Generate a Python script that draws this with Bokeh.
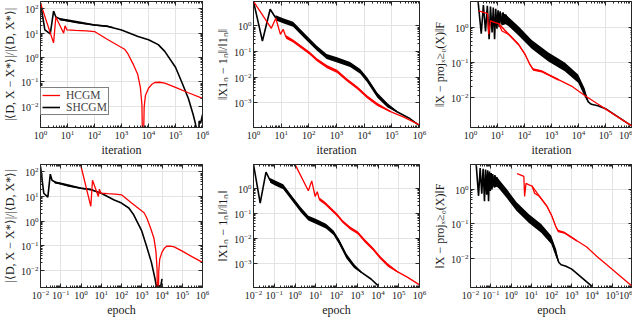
from bokeh.plotting import figure
from bokeh.layouts import column, row
from bokeh.models import FixedTicker, LogAxis, Legend, LegendItem, Range1d, CustomJSTickFormatter
from bokeh.embed import file_html
from bokeh.resources import INLINE

# ---------------- data ----------------
SERIES = ["HCGM", "SHCGM"]
SHCGM_ITERS_PER_EPOCH = 100   # SHCGM: 100 iterations = 1 epoch; HCGM: 1 iteration = 1 epoch

# panel 1 / 4 : |<D, X - X*>| / |<D, X*>|
obj_hcgm_x = [1, 3.05, 3.7, 7.2, 8.1, 9.6, 20, 50, 100, 316, 1300, 1760, 2700, 4000, 5000,
              5700, 6100, 6400, 6900, 7700, 1e4, 13000, 17000, 26000, 40000, 1e5, 3e5, 1e6]
obj_hcgm_y = [170, 4, 46, 10, 20, 13.6, 13, 12.5, 11.7, 5.4, 2.2, 1.37, 0.54, 0.2, 0.06,
              0.012, 1e-4, 1e-4, 0.009, 0.028, 0.055, 0.078, 0.095, 0.097, 0.09, 0.06, 0.036, 0.021]
obj_shcgm_x = [1, 1.45, 2.3, 3.05, 3.7, 5.7, 24, 100, 316, 1000, 4100, 1e4, 23000, 40000,
               1e5, 1.7e5, 3e5, 4.5e5, 5.5e5, 5.9e5, 7e5, 7.5e5, 8.5e5, 1e6]
obj_shcgm_y = [170, 13.6, 9.4, 81, 46, 37, 27, 21.6, 19, 13.5, 7.4, 5.4, 3.4, 1.8,
               0.4, 0.1, 0.021, 0.0046, 0.0019, 1e-4, 1e-4, 0.0025, 0.002, 0.0045]
obj_shcgm_band_x = [5, 10, 30, 100, 300, 500]
obj_shcgm_band_lo = [34, 30.5, 25, 20, 17.8, 16]
obj_shcgm_band_hi = [42, 37, 30, 23.5, 20.5, 18]

# panel 2 / 5 : ||X 1n - 1n|| / ||1n||
feas_hcgm_x = [1, 4.4, 6.4, 9.4, 11.8, 14.8, 27, 105, 195, 450, 1050, 2400, 5600, 13000,
               30000, 90000, 2.7e5, 1e6]
feas_hcgm_y = [9.1, 0.81, 2.0, 0.47, 0.74, 0.37, 0.26, 0.089, 0.048, 0.026, 0.017, 0.0078,
               0.0039, 0.0017, 8.6e-4, 4.6e-4, 2.8e-4, 1.4e-4]
feas_hcgm_band_x = [15, 27, 105, 195, 450, 1050, 2400, 5600, 13000, 30000, 90000]
feas_hcgm_band_lo = [0.32, 0.226, 0.077, 0.042, 0.0226, 0.0148, 0.0068, 0.0034, 0.00148, 7.5e-4, 4.3e-4]
feas_hcgm_band_hi = [0.43, 0.30, 0.102, 0.055, 0.030, 0.0196, 0.009, 0.0045, 0.00196, 9.9e-4, 4.9e-4]
feas_shcgm_x = [1, 2.1, 4.0, 6.3, 11.7, 27, 72, 190, 440, 1050, 3100, 7200, 13000, 30000,
                70000, 1.6e5, 4.6e5, 1e6]
feas_shcgm_y = [9.1, 0.26, 4.5, 2.1, 1.6, 1.16, 0.4, 0.14, 0.065, 0.048, 0.031, 0.017,
                0.0078, 0.002, 8e-4, 4.4e-4, 2.4e-4, 1.3e-4]
feas_shcgm_band_x = [6.3, 11.7, 27, 72, 190, 440, 1050, 3100, 7200, 13000, 30000, 70000, 1.6e5]
feas_shcgm_band_lo = [1.68, 1.28, 0.93, 0.32, 0.112, 0.052, 0.038, 0.025, 0.0136, 0.0062, 0.0016, 6.6e-4, 4.1e-4]
feas_shcgm_band_hi = [2.6, 2.0, 1.45, 0.5, 0.175, 0.081, 0.06, 0.039, 0.021, 0.0098, 0.0025, 9.6e-4, 4.7e-4]

# panel 3 / 6 : ||X - proj_{X>=0}(X)||_F
nonneg_hcgm_x = [2.0, 3.1, 4.3, 4.7, 5.5, 8.3, 11, 14.6, 26, 60, 105, 160, 210, 440, 770,
                 1800, 5500, 17000, 52000, 92000, 1e6]
nonneg_hcgm_y = [2.86, 2.6, 2.4, 0.62, 1.5, 1.33, 1.25, 0.77, 0.62, 0.32, 0.166, 0.085,
                 0.062, 0.055, 0.044, 0.032, 0.021, 0.0114, 0.0065, 0.0049, 0.0015]
nonneg_hcgm_band_x = [11, 26, 60, 105, 160, 210, 440, 770, 1800]
nonneg_hcgm_band_lo = [1.16, 0.57, 0.30, 0.154, 0.079, 0.057, 0.051, 0.041, 0.030]
nonneg_hcgm_band_hi = [1.35, 0.67, 0.345, 0.18, 0.092, 0.067, 0.059, 0.047, 0.034]
nonneg_shcgm_x = [1.9, 2.5, 3.0, 3.6, 4.2, 4.9, 5.5, 6.3, 7.0, 7.8, 8.6, 9.5, 10.5, 11.5,
                  12.5, 14, 16, 18, 20, 26, 60, 185, 770, 3100, 9700, 17000, 23000, 30000,
                  52000, 1e5, 1e6]
nonneg_shcgm_y = [5.5, 0.65, 4.2, 0.75, 4.0, 0.45, 3.8, 0.7, 3.6, 0.45, 3.3, 0.9, 3.0, 1.0,
                  2.8, 1.2, 2.6, 1.4, 2.2, 1.4, 0.77, 0.32, 0.14, 0.073, 0.034, 0.013, 0.0075,
                  0.0064, 0.0058, 0.0048, 0.0015]
nonneg_shcgm_band_x = [14, 20, 26, 60, 185, 770, 3100, 9700, 17000, 22000]
nonneg_shcgm_band_lo = [1.1, 1.2, 1.05, 0.57, 0.24, 0.105, 0.055, 0.026, 0.0105, 0.0075]
nonneg_shcgm_band_hi = [2.5, 2.3, 1.9, 1.05, 0.43, 0.19, 0.098, 0.045, 0.018, 0.009]

Y_LABELS = ["|⟨D, X − X*⟩|/|⟨D, X*⟩|", "‖X1ₙ − 1ₙ‖/‖1ₙ‖", "‖X − projₓ≥₀(X)‖F"]
X_LABELS = ["iteration", "epoch"]

# ---------------- styling ----------------
RED = "#ff0000"
BLACK = "#000000"
FONT = "Liberation Serif"
AX_COL = "#262626"
GRID_COL = "#e3e3e3"


def decades(a, b):
    return [10.0 ** k for k in range(a, b + 1)]


def minors(a, b):
    return [m * 10.0 ** k for k in range(a, b) for m in range(2, 10)]


def style_axis(ax, ticks, mticks, show_labels):
    ax.ticker = FixedTicker(ticks=ticks, minor_ticks=mticks)
    ax.major_tick_in = 4
    ax.major_tick_out = 0
    ax.minor_tick_in = 2
    ax.minor_tick_out = 0
    ax.axis_line_color = AX_COL
    ax.major_tick_line_color = AX_COL
    ax.minor_tick_line_color = AX_COL
    ax.major_label_text_font = FONT
    ax.major_label_text_color = "#1a1a1a"
    if show_labels:
        ax.major_label_text_font_size = "10px"
        ax.major_label_standoff = 2
    else:
        ax.major_label_text_font_size = "1px"
        ax.formatter = CustomJSTickFormatter(code="return ''")
        ax.major_label_standoff = 0


def make_panel(fw, fh, xr, yr, xdec, ydec, borders, xlabel, ylabel):
    bl, br, bt, bb = borders
    p = figure(frame_width=fw, frame_height=fh, x_axis_type="log", y_axis_type="log",
               x_range=Range1d(*xr), y_range=Range1d(*yr),
               output_backend="svg", toolbar_location=None,
               min_border_left=bl, min_border_right=br, min_border_top=bt, min_border_bottom=bb)
    p.background_fill_color = "white"
    p.border_fill_color = "white"
    p.outline_line_color = AX_COL
    p.outline_line_width = 1
    xt, xm = decades(*xdec), minors(*xdec)
    yt, ym = decades(*ydec), minors(*ydec)
    style_axis(p.xaxis[0], xt, xm, True)
    style_axis(p.yaxis[0], yt, ym, True)
    p.xaxis[0].axis_label = xlabel
    p.yaxis[0].axis_label = ylabel
    for ax in (p.xaxis[0], p.yaxis[0]):
        ax.axis_label_text_font = FONT
        ax.axis_label_text_font_style = "normal"
        ax.axis_label_text_font_size = "12px"
        ax.axis_label_text_color = "#1a1a1a"
        ax.axis_label_standoff = 1
    top = LogAxis()
    style_axis(top, xt, xm, False)
    right = LogAxis()
    style_axis(right, yt, ym, False)
    p.add_layout(top, "above")
    p.add_layout(right, "right")
    p.xgrid.ticker = FixedTicker(ticks=xt)
    p.ygrid.ticker = FixedTicker(ticks=yt)
    p.xgrid.grid_line_color = GRID_COL
    p.ygrid.grid_line_color = GRID_COL
    return p


def draw(p, black, red, epoch=False):
    bx, by, bbx, blo, bhi = black
    rx, ry, rbx, rlo, rhi = red
    if epoch:
        bx = [v / SHCGM_ITERS_PER_EPOCH for v in bx]
        bbx = [v / SHCGM_ITERS_PER_EPOCH for v in bbx] if bbx else bbx
    if bbx:
        p.varea(x=bbx, y1=blo, y2=bhi, fill_color=BLACK, fill_alpha=1)
    rb = p.line(bx, by, line_color=BLACK, line_width=1.6)
    if rbx:
        p.varea(x=rbx, y1=rlo, y2=rhi, fill_color=RED, fill_alpha=1)
    rr = p.line(rx, ry, line_color=RED, line_width=1.3)
    return rr, rb


OBJ = ((obj_shcgm_x, obj_shcgm_y, obj_shcgm_band_x, obj_shcgm_band_lo, obj_shcgm_band_hi),
       (obj_hcgm_x, obj_hcgm_y, [], [], []))
FEAS = ((feas_shcgm_x, feas_shcgm_y, feas_shcgm_band_x, feas_shcgm_band_lo, feas_shcgm_band_hi),
        (feas_hcgm_x, feas_hcgm_y, feas_hcgm_band_x, feas_hcgm_band_lo, feas_hcgm_band_hi))
NONNEG = ((nonneg_shcgm_x, nonneg_shcgm_y, nonneg_shcgm_band_x, nonneg_shcgm_band_lo, nonneg_shcgm_band_hi),
          (nonneg_hcgm_x, nonneg_hcgm_y, nonneg_hcgm_band_x, nonneg_hcgm_band_lo, nonneg_hcgm_band_hi))

TOP_FH, BOT_FH = 126, 123
cols = [(162, (35, 11)), (166, (34, 11)), (162, (37, 0))]
yspecs = [((1.35e-3, 200), (-2, 2)), ((1.1e-4, 9), (-3, 0)), ((1.4e-3, 5.3), (-2, 0))]
yspecs_bot = [((2.0e-3, 200), (-2, 2)), ((1.1e-4, 9), (-3, 0)), ((1.4e-3, 5.3), (-2, 0))]
datasets = [OBJ, FEAS, NONNEG]

top_figs, bot_figs = [], []
for i in range(3):
    fw, (bl, br) = cols[i]
    (yr, yd) = yspecs[i]
    p = make_panel(fw, TOP_FH, (1, 1e6), yr, (0, 6), yd, (bl, br, 1, 28), X_LABELS[0], Y_LABELS[i])
    rr, rb = draw(p, datasets[i][0], datasets[i][1], epoch=False)
    if i == 0:
        leg = Legend(items=[LegendItem(label=SERIES[0], renderers=[rr]),
                            LegendItem(label=SERIES[1], renderers=[rb])],
                     location=(0, 12))
        leg.border_line_color = "#000000"
        leg.border_line_width = 1
        leg.background_fill_color = "white"
        leg.background_fill_alpha = 1
        leg.label_text_font = FONT
        leg.label_text_font_size = "11.5px"
        leg.glyph_width = 18
        leg.glyph_height = 10
        leg.label_height = 10
        leg.label_standoff = 6
        leg.padding = 1
        leg.spacing = 0
        leg.margin = 0
        p.add_layout(leg)
    top_figs.append(p)

    (yr, yd) = yspecs_bot[i]
    q = make_panel(fw, BOT_FH, (1e-2, 1e6), yr, (-2, 6), yd, (bl, br, 5, 28), X_LABELS[1], Y_LABELS[i])
    draw(q, datasets[i][0], datasets[i][1], epoch=True)
    bot_figs.append(q)

layout = column(row(*top_figs), row(*bot_figs))
open("out.html", "w").write(file_html(layout, INLINE))
